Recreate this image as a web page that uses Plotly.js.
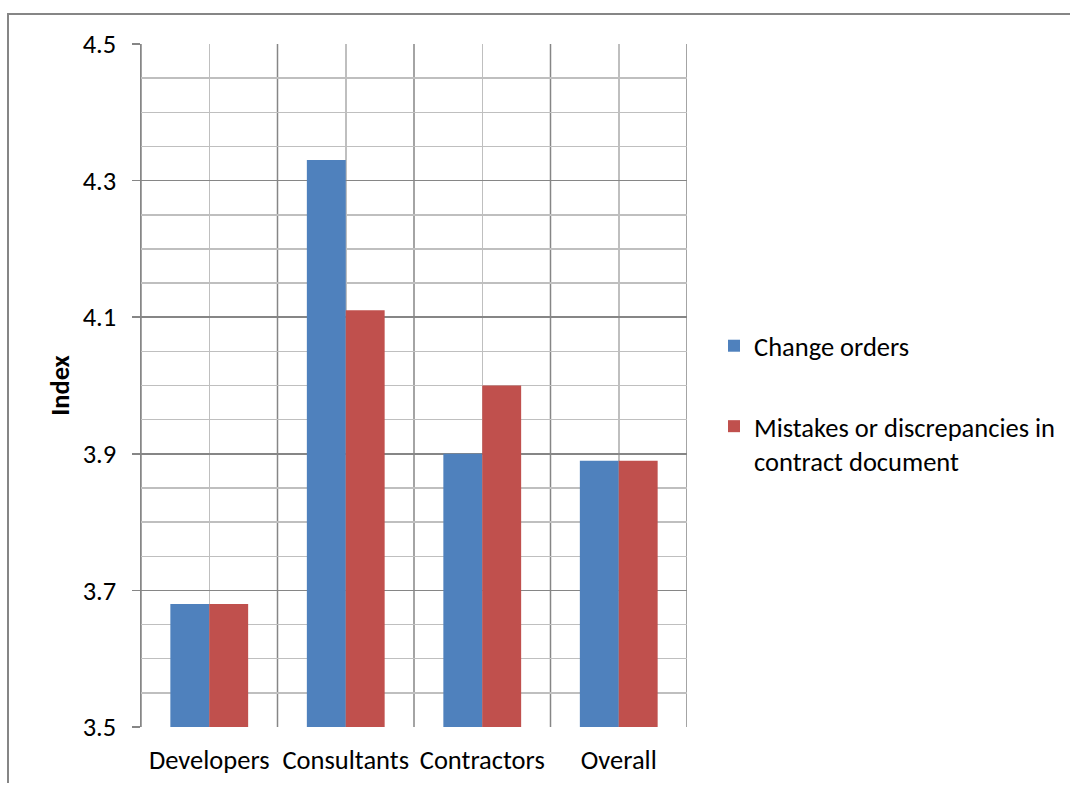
<!DOCTYPE html>
<html>
<head>
<meta charset="utf-8">
<script src="https://cdn.plot.ly/plotly-3.0.1.min.js"></script>
<style>
  html, body { margin: 0; padding: 0; background: #fff; }
  #chart { width: 1070px; height: 785px; }
</style>
</head>
<body>
<div id="chart"></div>
<script>
// Survey groups and their mean index scores
const categories = ["Developers", "Consultants", "Contractors", "Overall"];
const changeOrders = [3.68, 4.33, 3.90, 3.89];
const mistakesInDocs = [3.68, 4.11, 4.00, 3.89];
const seriesNames = ["Change orders", "Mistakes or discrepancies in<br>contract document"];
const yTicks = [3.5, 3.7, 3.9, 4.1, 4.3, 4.5];

const FONT = "Carlito, Calibri, 'Open Sans', sans-serif";
const FS = 26.5;
const positions = categories.map((_, i) => i);
const boundaries = [-0.5, 0.5, 1.5, 2.5, 3.5];

const traces = [
  {
    type: "bar", name: seriesNames[0], x: positions, y: changeOrders,
    legendgroup: "a", marker: { color: "#4f81bd" }, hoverinfo: "y"
  },
  {
    type: "bar", name: seriesNames[1], x: positions, y: mistakesInDocs,
    legendgroup: "b", marker: { color: "#c0504d" }, hoverinfo: "y"
  }
];

const L = 141, R = 687, T = 44, B = 727, W = 1070, H = 785;
const pw = R - L, ph = B - T;

// darker vertical lines between the category groups
const groupLines = boundaries.map(b => ({
  type: "line", xref: "x", yref: "paper", x0: b, x1: b, y0: 0, y1: 1,
  layer: "below", line: { color: "#868686", width: 1.5 }
}));

const layout = {
  width: W, height: H,
  margin: { l: L, r: W - R, t: T, b: H - B, pad: 0, autoexpand: false },
  paper_bgcolor: "#fff", plot_bgcolor: "#fff",
  font: { family: FONT, size: FS, color: "#000" },
  barmode: "group",
  bargap: 0.43, bargroupgap: 0,
  showlegend: true,
  legend: {
    x: (714 - L) / pw, y: (ph - (322 - T)) / ph, xanchor: "left", yanchor: "top",
    font: { family: FONT, size: FS, color: "#000" },
    tracegroupgap: 43, bgcolor: "rgba(0,0,0,0)", valign: "top",
    traceorder: "grouped"
  },
  xaxis: {
    range: [-0.5, 3.5], tickmode: "array", tickvals: positions, ticktext: categories,
    showgrid: true, gridcolor: "#bfbfbf", gridwidth: 1.5,
    ticks: "", showline: false,
    ticklabelstandoff: 14, zeroline: false, fixedrange: true
  },
  yaxis: {
    range: [3.5, 4.5], tickmode: "array", tickvals: yTicks,
    ticktext: yTicks.map(v => v.toFixed(1)),
    showgrid: true, gridcolor: "#868686", gridwidth: 1.5,
    ticks: "outside", ticklen: 8, tickwidth: 1.5, tickcolor: "#868686",
    showline: true, linecolor: "#868686", linewidth: 1.5,
    ticklabelstandoff: 10, zeroline: false, fixedrange: true,
    minor: { dtick: 0.05, showgrid: true, gridcolor: "#bfbfbf", gridwidth: 1.5, ticks: "" },
    title: { text: "<b>Index</b>", font: { family: FONT, size: FS }, standoff: 5 }
  },
  shapes: groupLines.concat([
    {
      type: "path", xref: "paper", yref: "paper",
      path: `M ${(8 - L) / pw} ${(B - 783) / ph} L ${(8 - L) / pw} ${(B - 14) / ph} L ${(W + 5 - L) / pw} ${(B - 14) / ph}`,
      line: { color: "#868686", width: 2 }
    }
  ])
};

Plotly.newPlot("chart", traces, layout, { displayModeBar: false, staticPlot: true });
</script>
</body>
</html>
